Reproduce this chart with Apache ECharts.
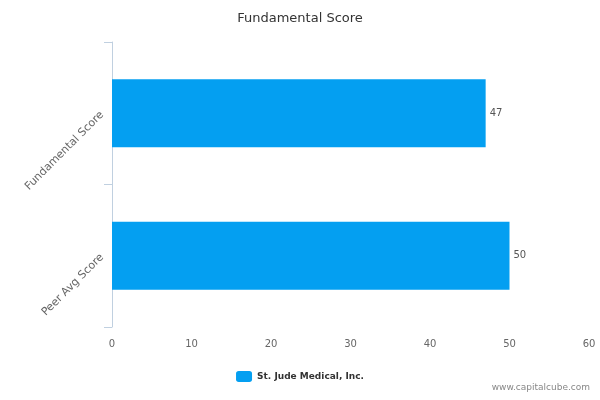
<!DOCTYPE html>
<html><head><meta charset="utf-8">
<script src="https://cdn.jsdelivr.net/npm/echarts@6/dist/echarts.min.js"></script>
<style>html,body{margin:0;padding:0;background:#fff}#c{width:600px;height:400px}</style>
</head><body><div id="c"></div>
<script>
var categories = ["Fundamental Score", "Peer Avg Score"];
var values = [47, 50];
var xTicks = [0, 10, 20, 30, 40, 50, 60];
var seriesName = "St. Jude Medical, Inc.";
var chart = echarts.init(document.getElementById('c'));
chart.setOption({
  animation: false,
  title: { text: "Fundamental Score", left: 'center', top: 7,
    textStyle: { fontFamily: 'DejaVu Sans', fontSize: 13, fontWeight: 'normal', color: '#333' } },
  grid: { left: 112, right: 11, top: 42, bottom: 73 },
  xAxis: { type: 'value', min: xTicks[0], max: xTicks[xTicks.length-1], interval: 10,
    axisLine: { show: false }, axisTick: { show: false }, splitLine: { show: false },
    axisLabel: { color: '#666', fontFamily: 'DejaVu Sans', fontSize: 10, margin: 12 } },
  yAxis: { type: 'category', data: categories, inverse: true,
    axisLine: { show: true, lineStyle: { color: '#c0d0e0' } },
    axisTick: { show: true, length: 8, lineStyle: { color: '#c0d0e0' } },
    axisLabel: { rotate: 45, color: '#666', fontFamily: 'DejaVu Sans', fontSize: 11, margin: 10 } },
  legend: { bottom: 13, left: 'center', itemWidth: 16, itemHeight: 11,
    textStyle: { fontFamily: 'DejaVu Sans', fontSize: 9, fontWeight: 'bold', color: '#333' },
    data: [seriesName] },
  series: [{ name: seriesName, type: 'bar', data: values, barWidth: 68,
    itemStyle: { color: '#049ff1' },
    label: { show: true, position: 'right', color: '#555', fontFamily: 'DejaVu Sans', fontSize: 10, distance: 4 } }],
  graphic: [{ type: 'text', right: 10, bottom: 8,
    style: { text: 'www.capitalcube.com', fill: '#888', font: '9px DejaVu Sans' } }]
});
</script></body></html>
